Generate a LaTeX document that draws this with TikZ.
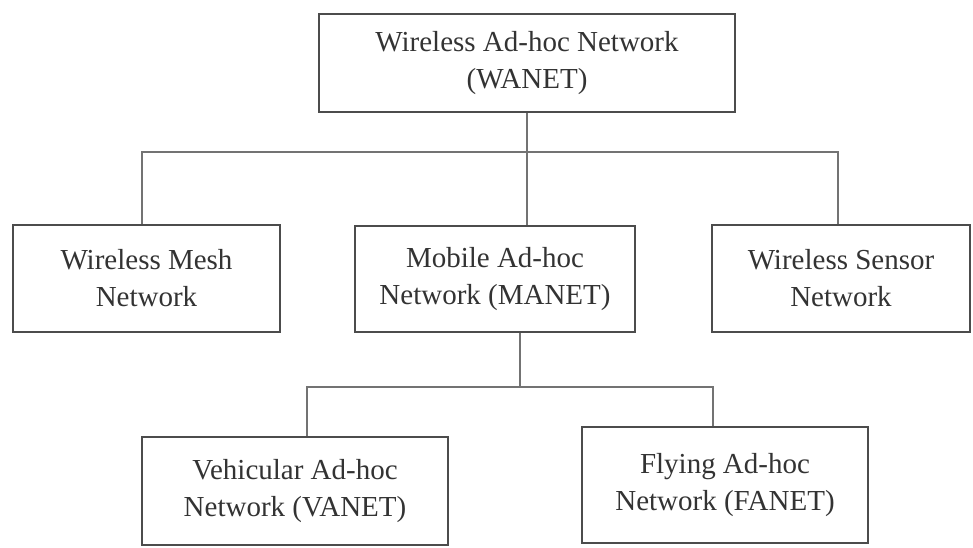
\documentclass[tikz,border=0pt]{standalone}
\usepackage{fontspec}
\setmainfont{Liberation Serif}
\usepackage{xcolor}

\tikzset{
	netbox/.style={draw=black!70, line width=1.6pt, fill=white, align=center, inner sep=0pt,
		text=black!80, font=\fontsize{29}{37}\selectfont},
	link/.style={draw=black!55, line width=1.6pt}
}

\begin{document}
\begin{tikzpicture}[x=1pt,y=-1pt]
		\useasboundingbox (0,0) rectangle (973,547);
		% boxes
		\node[netbox, minimum width=416pt, minimum height=98pt] (wanet) at (527,63) {Wireless Ad-hoc Network\\(WANET)};
		\node[netbox, minimum width=267pt, minimum height=107pt] (wmn) at (146.5,278.5) {Wireless Mesh\\Network};
		\node[netbox, minimum width=280pt, minimum height=106pt] (manet) at (495,279) {Mobile Ad-hoc\\Network (MANET)};
		\node[netbox, minimum width=258pt, minimum height=107pt] (wsn) at (841,278.5) {Wireless Sensor\\Network};
		\node[netbox, minimum width=306pt, minimum height=108pt] (vanet) at (295,491) {Vehicular Ad-hoc\\Network (VANET)};
		\node[netbox, minimum width=286pt, minimum height=116pt] (fanet) at (725,485) {Flying Ad-hoc\\Network (FANET)};
		% branch lines
		\coordinate (upbus) at (0,152);
		\coordinate (lowbus) at (0,387);
		\draw[link] (wanet.south) -- (wanet.south |- manet.north);
		\draw[link] ([xshift=-4.5pt]wmn.north) |- ([xshift=-3pt]wsn.north |- upbus) -- ([xshift=-3pt]wsn.north);
		\draw[link] ([xshift=25pt]manet.south) -- ([xshift=25pt]manet.south |- lowbus);
		\draw[link] ([xshift=12pt]vanet.north) |- ([xshift=-12pt]fanet.north |- lowbus) -- ([xshift=-12pt]fanet.north);
	\end{tikzpicture}
\end{document}
